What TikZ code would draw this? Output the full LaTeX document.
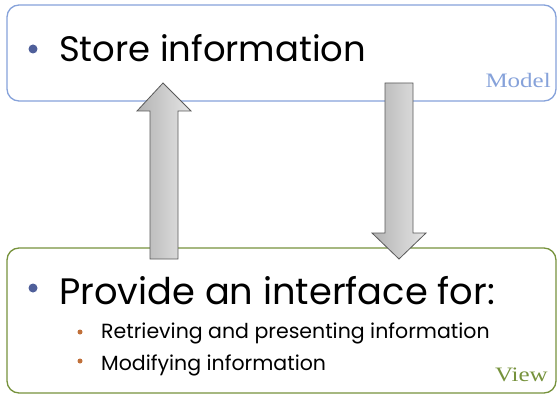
\documentclass[tikz,border=0pt]{standalone}
\usepackage{fontspec}
\setmainfont{Poppins}
\newfontfamily\serifname[FakeStretch=1.22]{Liberation Serif}
\usetikzlibrary{shadings}
\definecolor{modelblue}{HTML}{86A2DA}
\definecolor{viewgreen}{HTML}{76923C}
\definecolor{bulletblue}{HTML}{4F5F9A}
\definecolor{bulletorange}{HTML}{C0703A}
\tikzset{
  box/.style={rounded corners=12pt, line width=1.3pt},
  blockarrow/.style={draw=black!65, line width=0.8pt, left color=black!30, right color=black!10, line join=miter},
  bigtext/.style={anchor=base west, inner sep=0pt, font=\fontsize{35.4}{40}\selectfont},
  biggertext/.style={anchor=base west, inner sep=0pt, font=\fontsize{36.8}{42}\selectfont},
  smalltext/.style={anchor=base west, inner sep=0pt, font=\fontsize{20.5}{24}\selectfont},
  tag/.style={anchor=base east, inner sep=0pt, font=\serifname\fontsize{20.5}{24}\selectfont}
}
\begin{document}
\begin{tikzpicture}[x=1pt,y=-1pt]
\useasboundingbox (0,0) rectangle (558,396);
\draw[box, modelblue] (7,5) rectangle (556,101);
\draw[box, viewgreen] (7,248) rectangle (556,393);
% up arrow
\path[blockarrow] (150,259) -- (150,111) -- (137,111) -- (163,83) -- (191,111) -- (178,111) -- (178,259) -- cycle;
% down arrow
\path[blockarrow] (385,83) -- (413,83) -- (413,233) -- (426,233) -- (399,259) -- (372,233) -- (385,233) -- cycle;
% model text
\fill[bulletblue] (33,49) circle (4.5);
\node[bigtext] (store) at (59,62) {Store information};
\node[tag, modelblue] (model) at (551,88) {Model};
% view text
\fill[bulletblue] (33,288) circle (4.5);
\node[biggertext] (provide) at (59,305) {Provide an interface for:};
\fill[bulletorange] (80,332) circle (2.5);
\node[smalltext] (retr) at (101,338) {Retrieving and presenting information};
\fill[bulletorange] (80,361) circle (2.5);
\node[smalltext] (modif) at (101,370) {Modifying information};
\node[tag, viewgreen] (view) at (548,381) {View};
\end{tikzpicture}
\end{document}
